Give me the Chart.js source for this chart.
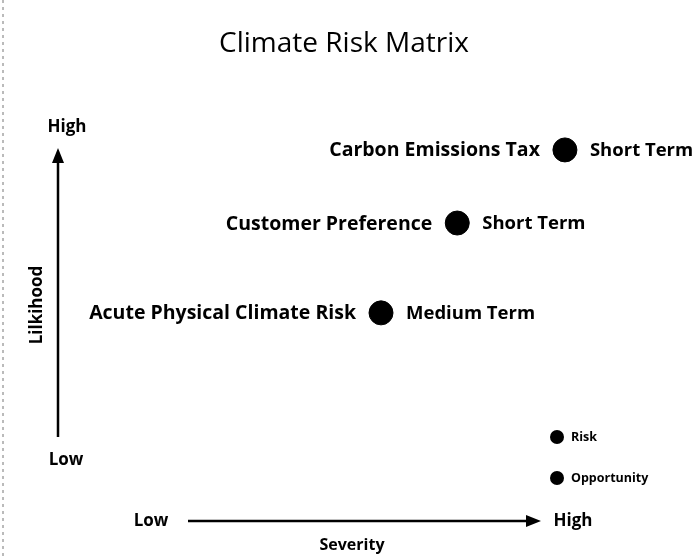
<!DOCTYPE html>
<html>
<head>
<meta charset="utf-8">
<script src="https://cdn.jsdelivr.net/npm/chart.js@4.4.0/dist/chart.umd.min.js"></script>
<style>
  html, body { margin: 0; padding: 0; background: #fff; }
  #wrap { width: 699px; height: 556px; }
</style>
</head>
<body>
<div id="wrap"><canvas id="out" width="699" height="556"></canvas></div>
<script>
// data (0..10 on both axes)
const risks = ["Carbon Emissions Tax", "Customer Preference", "Acute Physical Climate Risk"];
const terms = ["Short Term", "Short Term", "Medium Term"];
const severity = [8.71, 6.86, 5.55];
const likelihood = [9.94, 7.67, 4.88];
const legendLabels = ["Risk", "Opportunity"];
const axisEnds = ["Low", "High"];

const FONT = "'Open Sans', sans-serif";

const matrixDecor = {
  id: "matrixDecor",
  afterDatasetsDraw(chart) {
    const ctx = chart.ctx;
    ctx.save();
    ctx.fillStyle = "#000";

    // scan edge
    ctx.strokeStyle = "#777";
    ctx.setLineDash([3, 4]);
    ctx.lineWidth = 1;
    ctx.beginPath();
    ctx.moveTo(3, 0);
    ctx.lineTo(3, 556);
    ctx.stroke();
    ctx.setLineDash([]);
    ctx.strokeStyle = "#000";

    // title
    ctx.font = "28px " + FONT;
    ctx.textAlign = "center";
    ctx.textBaseline = "middle";
    ctx.fillText("Climate Risk Matrix", 344, 44);

    // y arrow
    ctx.lineWidth = 2.5;
    ctx.beginPath();
    ctx.moveTo(58, 437);
    ctx.lineTo(58, 160);
    ctx.stroke();
    ctx.beginPath();
    ctx.moveTo(58, 148);
    ctx.lineTo(52, 163);
    ctx.lineTo(64, 163);
    ctx.closePath();
    ctx.fill();

    // x arrow
    ctx.beginPath();
    ctx.moveTo(188, 521);
    ctx.lineTo(528, 521);
    ctx.stroke();
    ctx.beginPath();
    ctx.moveTo(541, 521);
    ctx.lineTo(526, 515);
    ctx.lineTo(526, 527);
    ctx.closePath();
    ctx.fill();

    // axis end labels
    ctx.font = "bold 17px " + FONT;
    ctx.textAlign = "center";
    ctx.fillText(axisEnds[1], 67, 127);
    ctx.fillText(axisEnds[0], 66, 460);
    ctx.fillText(axisEnds[0], 151, 521);
    ctx.fillText(axisEnds[1], 573, 521);
    ctx.font = "bold 16px " + FONT;
    ctx.fillText("Severity", 352, 545);

    ctx.save();
    ctx.translate(37, 305);
    ctx.rotate(-Math.PI / 2);
    ctx.font = "bold 17px " + FONT;
    ctx.fillText("Lilkihood", 0, 0);
    ctx.restore();

    // point labels
    const meta = chart.getDatasetMeta(0);
    meta.data.forEach((pt, i) => {
      ctx.font = "bold 19.5px " + FONT;
      ctx.textAlign = "right";
      ctx.fillText(risks[i], pt.x - 25, pt.y + 1);
      ctx.font = "bold 18.5px " + FONT;
      ctx.textAlign = "left";
      ctx.fillText(terms[i], pt.x + 25, pt.y + 1);
    });

    // legend
    ctx.font = "bold 12.5px " + FONT;
    legendLabels.forEach((lab, i) => {
      const y = 437 + i * 41;
      ctx.beginPath();
      ctx.arc(557, y, 7, 0, Math.PI * 2);
      ctx.fill();
      ctx.textAlign = "left";
      ctx.fillText(lab, 571, y);
    });

    ctx.restore();
  }
};

new Chart(document.getElementById("out").getContext("2d"), {
  type: "scatter",
  data: {
    datasets: [{
      label: "Risk",
      data: severity.map((s, i) => ({ x: s, y: likelihood[i] })),
      backgroundColor: "#000",
      borderColor: "#000",
      pointRadius: 12,
      pointHoverRadius: 12,
      clip: false
    }]
  },
  options: {
    responsive: false,
    animation: false,
    layout: { padding: { left: 58, right: 59, top: 148, bottom: 86 } },
    plugins: {
      legend: { display: false },
      tooltip: { enabled: false }
    },
    scales: {
      x: { type: "linear", min: 0, max: 10, display: false },
      y: { type: "linear", min: 0, max: 10, display: false }
    }
  },
  plugins: [matrixDecor]
});
</script>
</body>
</html>
